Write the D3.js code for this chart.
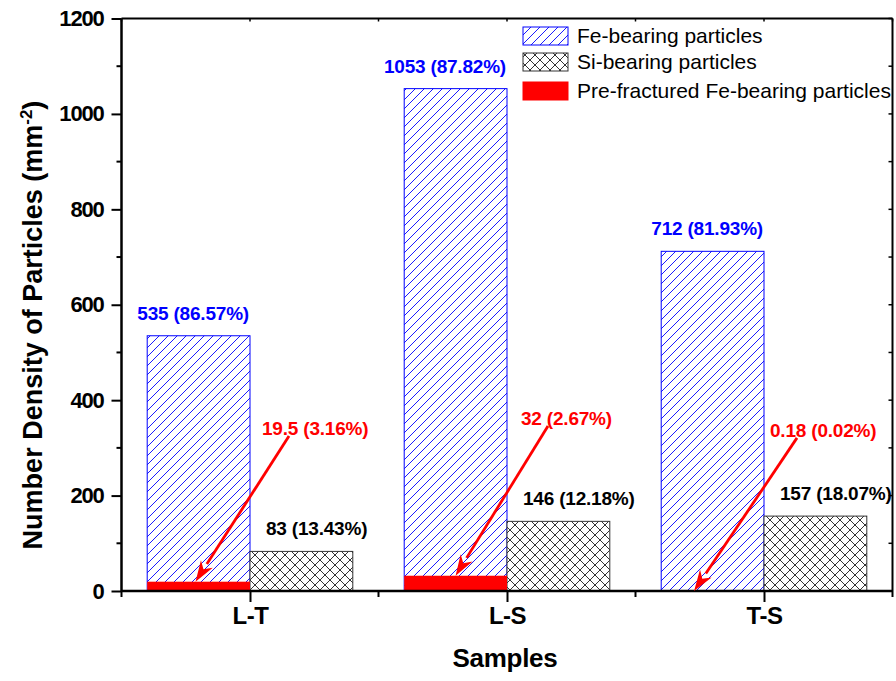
<!DOCTYPE html>
<html>
<head>
<meta charset="utf-8">
<script src="https://cdn.jsdelivr.net/npm/d3@7"></script>
<style>
  html, body { margin: 0; padding: 0; background: #fff; }
  svg { display: block; font-family: "Liberation Sans", Arial, sans-serif; }
</style>
</head>
<body>
<svg id="chart" width="896" height="681"></svg>
<script>
// Particle number densities per sample orientation
const samples = ["L-T", "L-S", "T-S"];
const feCount = [535, 1053, 712];
const fePct = ["86.57%", "87.82%", "81.93%"];
const siCount = [83, 146, 157];
const siPct = ["13.43%", "12.18%", "18.07%"];
const preCount = [19.5, 32, 0.18];
const prePct = ["3.16%", "2.67%", "0.02%"];
const yTicks = [0, 200, 400, 600, 800, 1000, 1200];
const yMinor = [100, 300, 500, 700, 900, 1100];
const legendLabels = ["Fe-bearing particles", "Si-bearing particles", "Pre-fractured Fe-bearing particles"];

// Callout placement for the pre-fractured labels (label height in data units,
// horizontal offset from the category centre, arrow tip as fraction of bar width)
const calloutLayout = [
  { dx: 12, labelAt: 327, tipFrac: 0.47 },
  { dx: 14, labelAt: 348, tipFrac: 0.50 },
  { dx: 6, labelAt: 323, tipFrac: 0.32 }
];

const svg = d3.select("#chart");
const plotL = 121.5, plotR = 892.5, plotT = 18.5, plotB = 591;

const x = d3.scaleBand().domain(samples).range([plotL, plotR]).padding(0);
const bw = x.bandwidth();
const barW = bw * 0.4;
const cx = s => x(s) + bw / 2;
const y = d3.scaleLinear().domain([0, 1200]).range([plotB, plotT]);

const BLUE = "#0000ff", RED = "#ff0000";

// Fill patterns
const defs = svg.append("defs");
const diag = defs.append("pattern").attr("id", "diag")
  .attr("patternUnits", "userSpaceOnUse").attr("width", 9).attr("height", 9);
diag.append("rect").attr("width", 9).attr("height", 9).attr("fill", "#fff");
diag.append("path").attr("d", "M-1,1 l2,-2 M0,9 l9,-9 M8,10 l2,-2")
  .attr("stroke", BLUE).attr("stroke-width", 0.9);

const cross = defs.append("pattern").attr("id", "cross")
  .attr("patternUnits", "userSpaceOnUse").attr("width", 10).attr("height", 10);
cross.append("rect").attr("width", 10).attr("height", 10).attr("fill", "#fff");
cross.append("path").attr("d", "M0,0 L10,10 M10,0 L0,10 M-1,9 l2,2 M9,-1 l2,2 M-1,1 l2,-2 M9,11 l2,-2")
  .attr("stroke", "#000").attr("stroke-width", 0.8);

// Bars
const g = svg.append("g");
g.selectAll("rect.fe").data(samples).join("rect").attr("class", "fe")
  .attr("x", s => cx(s) - barW).attr("width", barW)
  .attr("y", (s, i) => y(feCount[i])).attr("height", (s, i) => plotB - y(feCount[i]))
  .attr("fill", "url(#diag)").attr("stroke", BLUE).attr("stroke-width", 1);

g.selectAll("rect.si").data(samples).join("rect").attr("class", "si")
  .attr("x", s => cx(s)).attr("width", barW)
  .attr("y", (s, i) => y(siCount[i])).attr("height", (s, i) => plotB - y(siCount[i]))
  .attr("fill", "url(#cross)").attr("stroke", "#333").attr("stroke-width", 1);

g.selectAll("rect.pre").data(samples).join("rect").attr("class", "pre")
  .attr("x", s => cx(s) - barW).attr("width", barW)
  .attr("y", (s, i) => y(preCount[i])).attr("height", (s, i) => plotB - y(preCount[i]))
  .attr("fill", RED);

// Frame (top and right) with inward ticks
svg.append("line").attr("x1", plotL).attr("x2", plotR).attr("y1", plotT).attr("y2", plotT)
  .attr("stroke", "#000").attr("stroke-width", 2);
svg.append("line").attr("x1", plotR).attr("x2", plotR).attr("y1", plotT).attr("y2", plotB)
  .attr("stroke", "#000").attr("stroke-width", 2);
const xMinorPos = [plotL, ...samples.slice(1).map(s => x(s)), plotR];
svg.selectAll("line.tt").data([...samples.map(cx), ...xMinorPos]).join("line")
  .attr("x1", d => d).attr("x2", d => d).attr("y1", plotT).attr("y2", plotT + 3)
  .attr("stroke", "#000").attr("stroke-width", 1.5);
svg.selectAll("line.rt").data([...yTicks, ...yMinor]).join("line")
  .attr("x1", plotR).attr("x2", plotR - 4).attr("y1", d => y(d)).attr("y2", d => y(d))
  .attr("stroke", "#000").attr("stroke-width", 1.5);

// Left axis
const yAxis = svg.append("g").attr("transform", `translate(${plotL},0)`)
  .call(d3.axisLeft(y).tickValues(yTicks).tickSize(10).tickPadding(8).tickFormat(d3.format("d")));
yAxis.append("g").selectAll("line").data(yMinor).join("line")
  .attr("x2", -5).attr("y1", d => y(d)).attr("y2", d => y(d)).attr("stroke", "#000").attr("stroke-width", 2);
yAxis.select(".domain").attr("stroke-width", 2.5).attr("d", `M0,${plotT}V${plotB}`);
yAxis.selectAll(".tick line").attr("stroke-width", 2);
yAxis.selectAll(".tick text").attr("font-size", 22).attr("font-weight", "bold")
  .attr("letter-spacing", "-1.2px").attr("font-family", "Liberation Sans, Arial, sans-serif").attr("fill", "#000");

// Bottom axis
const xAxis = svg.append("g").attr("transform", `translate(0,${plotB})`)
  .call(d3.axisBottom(d3.scalePoint().domain(samples).range([cx(samples[0]), cx(samples[2])]))
    .tickSize(11).tickPadding(5));
xAxis.append("g").selectAll("line").data(xMinorPos).join("line")
  .attr("x1", d => d).attr("x2", d => d).attr("y2", 6).attr("stroke", "#000").attr("stroke-width", 2);
xAxis.select(".domain").attr("stroke-width", 2.5).attr("d", `M${plotL},0H${plotR}`);
xAxis.selectAll(".tick line").attr("stroke-width", 2);
xAxis.selectAll(".tick text").attr("font-size", 24).attr("font-weight", "bold")
  .attr("letter-spacing", "-0.5px").attr("font-family", "Liberation Sans, Arial, sans-serif").attr("fill", "#000");

// Axis titles
svg.append("text").attr("x", 505).attr("y", 667).attr("text-anchor", "middle")
  .attr("font-size", 26).attr("font-weight", "bold").attr("letter-spacing", "-0.3px")
  .text("Samples");
const yt = svg.append("text").attr("transform", "translate(42,325) rotate(-90)")
  .attr("text-anchor", "middle").attr("font-size", 27).attr("font-weight", "bold");
yt.append("tspan").text("Number Density of Particles (mm");
yt.append("tspan").attr("font-size", 17).attr("dy", -10).text("-2");
yt.append("tspan").attr("dy", 10).text(")");

// Value labels
const lbl = { "font-size": 19, "font-weight": "bold", "letter-spacing": "-0.2px" };
const applyLbl = sel => Object.entries(lbl).forEach(([k, v]) => sel.attr(k, v));

svg.selectAll("text.fe").data(samples).join("text").attr("class", "fe")
  .attr("x", s => cx(s) - 1).attr("y", (s, i) => y(feCount[i]) - 16)
  .attr("text-anchor", "end").attr("fill", BLUE).call(applyLbl)
  .text((s, i) => `${feCount[i]} (${fePct[i]})`);

svg.selectAll("text.si").data(samples).join("text").attr("class", "si")
  .attr("x", s => cx(s) + 16).attr("y", (s, i) => y(siCount[i]) - 16)
  .attr("fill", "#000").call(applyLbl)
  .text((s, i) => `${siCount[i]} (${siPct[i]})`);

// Pre-fractured callouts with arrows
samples.forEach((s, i) => {
  const L = calloutLayout[i];
  const lx = cx(s) + L.dx, ly = y(L.labelAt);
  svg.append("text").attr("x", lx).attr("y", ly).attr("fill", RED).call(applyLbl)
    .text(`${preCount[i]} (${prePct[i]})`);
  const x0 = lx + 27, y0 = ly + 1;
  const x1 = cx(s) - barW + L.tipFrac * barW, y1 = y(preCount[i]);
  const ang = Math.atan2(y1 - y0, x1 - x0);
  const len = 21, hw = 7;
  const bx = x1 - len * Math.cos(ang), by = y1 - len * Math.sin(ang);
  svg.append("line").attr("x1", x0).attr("y1", y0).attr("x2", bx).attr("y2", by)
    .attr("stroke", RED).attr("stroke-width", 2.8);
  const px = -Math.sin(ang) * hw, py = Math.cos(ang) * hw;
  svg.append("path")
    .attr("d", `M${x1},${y1}L${bx + px},${by + py}L${bx + 0.3 * len * Math.cos(ang)},${by + 0.3 * len * Math.sin(ang)}L${bx - px},${by - py}Z`)
    .attr("fill", RED);
});

// Legend
const legendY = [27, 53, 82];
const lg = svg.append("g");
lg.selectAll("rect").data(legendLabels).join("rect")
  .attr("x", 523).attr("y", (d, i) => legendY[i]).attr("width", 45).attr("height", 18)
  .attr("fill", (d, i) => ["url(#diag)", "url(#cross)", RED][i])
  .attr("stroke", (d, i) => [BLUE, "#333", RED][i]).attr("stroke-width", 1);
lg.selectAll("text").data(legendLabels).join("text")
  .attr("x", 577).attr("y", (d, i) => legendY[i] + 16)
  .attr("font-size", 21).attr("fill", "#000").text(d => d);
</script>
</body>
</html>
